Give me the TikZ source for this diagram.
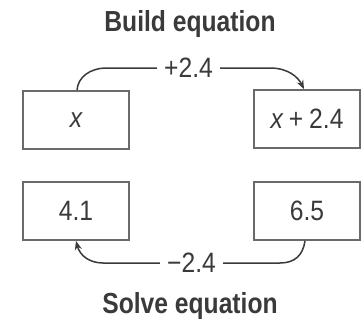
\documentclass[tikz,border=0pt]{standalone}
\usepackage{fontspec}
\setmainfont{Liberation Sans}[FakeStretch=0.88]
\newfontfamily\titlefont{Liberation Sans}[FakeStretch=0.85]
\usetikzlibrary{arrows.meta}
\definecolor{ink}{HTML}{3A3A3A}
\definecolor{boxline}{HTML}{6A6A6A}
\tikzset{
  valbox/.style={draw=boxline, line width=1.8pt, minimum width=106pt, minimum height=58pt,
    inner sep=0pt, text=ink, font=\fontsize{28}{30}\selectfont},
  heading/.style={text=ink, font=\titlefont\bfseries\fontsize{29}{32}\selectfont, inner sep=0pt},
  conn/.style={draw=ink, line width=1.5pt, -{Stealth[length=9pt,width=7pt]}},
  lbl/.style={fill=white, text=ink, inner xsep=7pt, inner ysep=2pt, font=\fontsize{28}{30}\selectfont}
}
\begin{document}
\begin{tikzpicture}[x=1pt,y=-1pt]
\useasboundingbox (0,0) rectangle (362,324);
\node[heading] (build) at (190,24) {Build equation};
\node[heading] (solve) at (190,306) {Solve equation};
\node[valbox] (bx) at (76,120) {\itshape x};
\node[valbox] (bxp) at (307,119) {\itshape x\upshape\kern6pt+\kern6pt2.4};
\node[valbox] (b41) at (76,211) {4.1};
\node[valbox] (b65) at (307,211) {6.5};
\coordinate (t1) at (107,68);
\coordinate (t2) at (270,68);
\coordinate (u1) at (280,263);
\coordinate (u2) at (103,263);
\draw[conn] ([xshift=1pt]bx.north) .. controls (78,77) and (90,68) .. (t1)
  -- node[lbl] (plus) {+2.4} (t2)
  .. controls (288,68) and (298,77) .. ([xshift=-3pt]bxp.north);
\draw[conn] ([xshift=-2pt]b65.south) .. controls (303,255) and (295,263) .. (u1)
  -- node[lbl] (minus) {\char"2212 2.4} (u2)
  .. controls (90,263) and (80,256) .. (b41.south);
\end{tikzpicture}
\end{document}
